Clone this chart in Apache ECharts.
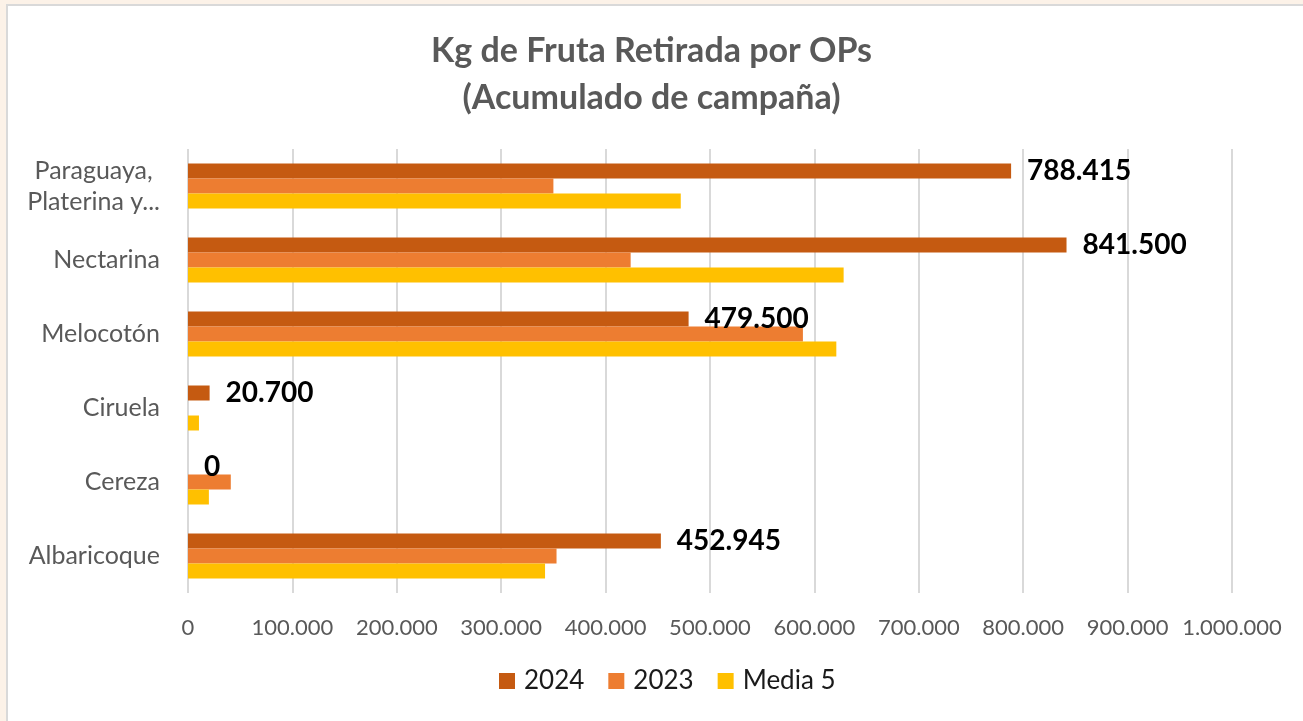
<!DOCTYPE html>
<html>
<head>
<meta charset="utf-8">
<script src="https://cdn.jsdelivr.net/npm/echarts@6/dist/echarts.min.js"></script>
<style>
  html, body { margin: 0; padding: 0; background: #fcf2e8; }
  #panel {
    position: absolute; left: 6px; top: 4px; width: 1310px; height: 730px;
    background: #fff; border-left: 2px solid #d9d9d9; border-top: 2px solid #d9d9d9;
  }
  #main { position: absolute; left: 0; top: 0; width: 1303px; height: 721px; }
</style>
</head>
<body>
<div id="panel"></div>
<div id="main"></div>
<script>
  // categories, bottom to top (as drawn by the category axis)
  const categories = ["Albaricoque", "Cereza", "Ciruela", "Melocotón", "Nectarina", "Paraguaya, Platerina y..."];
  const data2024 = [452945, 0, 20700, 479500, 841500, 788415];
  const data2023 = [353000, 41000, 0, 589000, 424000, 350000];
  const dataMedia5 = [342000, 20000, 10500, 621000, 628000, 472000];
  const xTicks = { min: 0, max: 1000000, interval: 100000 };

  const fmt = v => {
    if (v === 0) return "0";
    return String(v).replace(/\B(?=(\d{3})+(?!\d))/g, ".");
  };

  let myChart = echarts.init(document.getElementById("main"));
  let option = {
    backgroundColor: "transparent",
    animation: false,
    title: {
      text: "Kg de Fruta Retirada por OPs\n(Acumulado de campaña)",
      left: "center",
      top: 23,
      textStyle: {
        fontFamily: "Lato",
        fontWeight: "bold",
        fontSize: 34,
        lineHeight: 47,
        color: "#595959",
      },
    },
    legend: {
      data: ["2024", "2023", "Media 5"],
      bottom: 22,
      left: 494,
      itemWidth: 16,
      itemHeight: 16,
      itemGap: 24,
      icon: "rect",
      textStyle: { fontFamily: "Lato", fontSize: 26, color: "#1a1a1a", padding: [0, 0, 0, 4] },
    },
    grid: { left: 188, right: 71, top: 149, bottom: 128 },
    xAxis: {
      type: "value",
      min: xTicks.min,
      max: xTicks.max,
      interval: xTicks.interval,
      axisLine: { show: false },
      axisTick: { show: false },
      splitLine: { lineStyle: { color: "#d9d9d9", width: 2 } },
      axisLabel: {
        formatter: fmt,
        margin: 24,
        fontFamily: "Lato",
        fontSize: 22,
        color: "#595959",
      },
    },
    yAxis: {
      type: "category",
      data: categories,
      axisLine: { show: false },
      axisTick: { show: false },
      axisLabel: {
        margin: 28,
        fontFamily: "Lato",
        fontSize: 25,
        lineHeight: 31,
        color: "#595959",
        align: "right",
        formatter: v => v === "Paraguaya, Platerina y..." ? "{c|Paraguaya,}\n{c|Platerina y...}" : v,
        rich: {
          c: { fontFamily: "Lato", fontSize: 25, lineHeight: 31, color: "#595959", align: "center" },
        },
      },
    },
    series: [
      {
        name: "2024",
        type: "bar",
        data: data2024,
        barWidth: 15,
        barGap: "0%",
        itemStyle: { color: "#c55a11" },
        label: {
          show: true,
          position: "right",
          distance: 16,
          formatter: p => fmt(p.value),
          fontFamily: "Lato",
          fontWeight: "bold",
          fontSize: 28,
          color: "#000",
        },
      },
      {
        name: "2023",
        type: "bar",
        data: data2023,
        barWidth: 15,
        barGap: "0%",
        itemStyle: { color: "#ed7d31" },
      },
      {
        name: "Media 5",
        type: "bar",
        data: dataMedia5,
        barWidth: 15,
        barGap: "0%",
        itemStyle: { color: "#ffc000" },
      },
    ],
  };
  myChart.setOption(option);
</script>
</body>
</html>
